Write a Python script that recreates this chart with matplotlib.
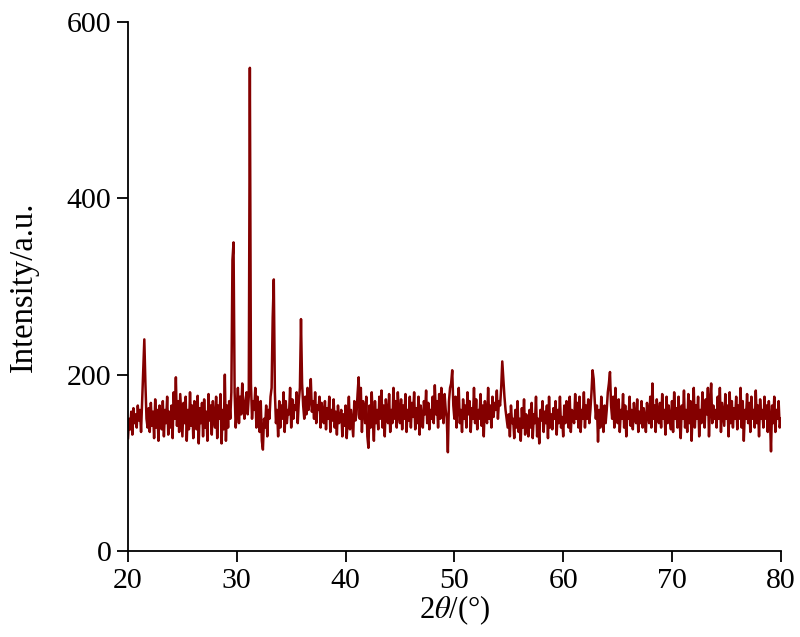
import numpy as np
import matplotlib
matplotlib.use("Agg")
import matplotlib.pyplot as plt

plt.rcParams['font.family'] = 'Liberation Serif'
plt.rcParams['mathtext.fontset'] = 'stix'

# XRD scan, 20-80 deg, 0.1 deg step
start_deg = 20.0
step_deg = 0.1
intensity = [
    128, 150, 138, 158, 132, 162, 145, 155, 140, 165,   # 20
    148, 160, 135, 170, 205, 240, 190, 150, 140, 162,   # 21
    135, 168, 142, 158, 128, 172, 140, 160, 125, 165,   # 22
    150, 138, 170, 130, 160, 145, 175, 132, 158, 140,   # 23
    165, 128, 180, 150, 197, 142, 170, 135, 178, 155,   # 24
    130, 168, 145, 175, 125, 160, 138, 180, 142, 165,   # 25
    128, 170, 150, 138, 176, 122, 162, 145, 168, 130,   # 26
    172, 140, 158, 125, 178, 148, 165, 132, 170, 150,   # 27
    140, 175, 128, 165, 150, 178, 122, 160, 138, 200,   # 28
    125, 165, 140, 170, 150, 180, 330, 350, 180, 140,   # 29
    160, 185, 145, 175, 155, 190, 165, 150, 170, 180,   # 30
    155, 175, 548, 190, 150, 170, 160, 185, 140, 175,   # 31
    160, 135, 170, 125, 115, 150, 140, 165, 130, 160,   # 32
    150, 175, 185, 265, 308, 180, 145, 160, 130, 170,   # 33
    140, 165, 150, 180, 135, 170, 145, 160, 155, 185,   # 34
    140, 172, 150, 165, 160, 180, 145, 170, 185, 263,   # 35
    190, 165, 150, 175, 155, 185, 160, 172, 195, 158,   # 36
    170, 150, 180, 145, 165, 160, 175, 140, 168, 155,   # 37
    145, 170, 138, 162, 150, 175, 135, 160, 148, 172,   # 38
    140, 158, 132, 165, 145, 150, 160, 130, 155, 142,   # 39
    165, 128, 150, 175, 138, 160, 145, 130, 170, 148,   # 40
    155, 178, 197, 150, 185, 135, 170, 160, 145, 175,   # 41
    130, 117, 165, 140, 180, 150, 125, 170, 145, 160,   # 42
    138, 175, 150, 182, 140, 165, 130, 172, 155, 145,   # 43
    178, 135, 160, 145, 185, 150, 170, 140, 180, 155,   # 44
    145, 172, 138, 165, 150, 178, 135, 160, 148, 175,   # 45
    140, 168, 152, 180, 138, 162, 145, 175, 132, 165,   # 46
    150, 140, 170, 155, 182, 145, 168, 138, 160, 150,   # 47
    175, 145, 188, 155, 170, 140, 178, 150, 185, 160,   # 48
    145, 178, 160, 150, 112, 170, 185, 190, 205, 165,   # 49
    150, 175, 140, 168, 185, 145, 160, 135, 172, 150,   # 50
    165, 140, 180, 155, 170, 135, 162, 150, 185, 145,   # 51
    172, 138, 160, 150, 178, 142, 165, 130, 170, 155,   # 52
    145, 185, 150, 165, 140, 175, 152, 168, 160, 182,   # 53
    150, 170, 165, 185, 215, 195, 175, 160, 150, 140,   # 54
    155, 130, 165, 145, 150, 128, 160, 140, 170, 135,   # 55
    150, 125, 162, 140, 172, 132, 155, 145, 130, 160,   # 56
    140, 168, 128, 155, 145, 175, 130, 150, 122, 160,   # 57
    148, 170, 135, 158, 145, 165, 128, 175, 140, 155,   # 58
    138, 162, 150, 170, 132, 160, 145, 175, 140, 152,   # 59
    130, 165, 145, 170, 150, 140, 175, 135, 160, 155,   # 60
    145, 178, 150, 168, 140, 175, 135, 160, 150, 180,   # 61
    140, 165, 150, 172, 145, 160, 180, 205, 195, 170,   # 62
    150, 165, 124, 160, 140, 175, 150, 135, 165, 145,   # 63
    160, 180, 190, 203, 165, 150, 175, 140, 185, 155,   # 64
    145, 172, 135, 160, 150, 178, 140, 165, 130, 158,   # 65
    150, 175, 142, 160, 138, 168, 150, 145, 172, 135,   # 66
    158, 145, 170, 140, 162, 150, 135, 168, 155, 145,   # 67
    175, 140, 190, 150, 165, 135, 172, 155, 145, 168,   # 68
    140, 178, 150, 160, 132, 175, 145, 165, 150, 138,   # 69
    170, 135, 180, 150, 162, 140, 175, 145, 128, 165,   # 70
    150, 182, 140, 160, 135, 178, 145, 170, 125, 158,   # 71
    185, 140, 165, 150, 175, 130, 160, 145, 180, 150,   # 72
    140, 172, 155, 185, 130, 168, 190, 145, 165, 150,   # 73
    160, 140, 175, 150, 185, 135, 168, 155, 142, 178,   # 74
    150, 165, 130, 180, 145, 170, 140, 162, 150, 175,   # 75
    138, 165, 150, 185, 140, 170, 125, 160, 150, 178,   # 76
    145, 168, 135, 175, 150, 160, 140, 182, 145, 165,   # 77
    130, 172, 150, 160, 140, 175, 150, 165, 135, 170,   # 78
    150, 113, 165, 145, 175, 135, 160, 150, 170, 140,   # 79
    150,                                                # 80
]
two_theta = start_deg + step_deg * np.arange(len(intensity))

x_ticks = [20, 30, 40, 50, 60, 70, 80]
y_ticks = [0, 200, 400, 600]

fig = plt.figure(figsize=(8, 6.37), dpi=100)
ax = fig.add_axes([0.16, 0.135, 0.816, 0.8305])

ax.plot(two_theta, intensity, color='#840000', linewidth=1.8)

ax.set_xlim(20, 80)
ax.set_ylim(0, 600)
ax.set_xticks(x_ticks)
ax.set_yticks(y_ticks)

for side in ['top', 'right']:
    ax.spines[side].set_visible(False)
for side in ['left', 'bottom']:
    ax.spines[side].set_linewidth(1.3)

ax.tick_params(direction='out', length=8, width=1.3, labelsize=21.5, pad=4)
ax.set_xlabel(r'2$\it{\theta}$/(°)', fontsize=22, labelpad=0)
ax.set_ylabel('Intensity/a.u.', fontsize=23.5, labelpad=20)

fig.savefig('out.png', dpi=100)
